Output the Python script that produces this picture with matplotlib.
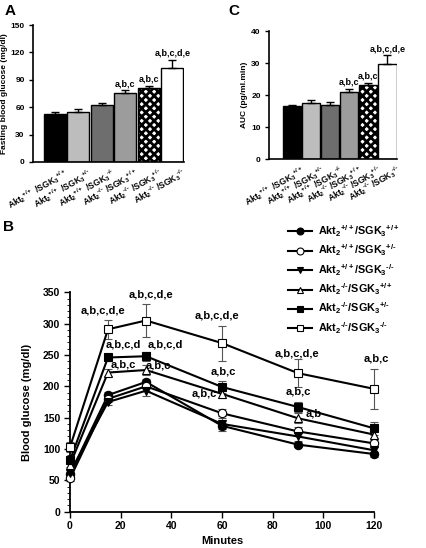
import matplotlib
matplotlib.use("Agg")
import matplotlib.pyplot as plt
import matplotlib.transforms as mtransforms
import numpy as np
from matplotlib.lines import Line2D

plt.rcParams['font.family'] = ['Liberation Sans', 'DejaVu Sans']
plt.rcParams['font.weight'] = 'bold'
plt.rcParams['mathtext.default'] = 'regular'
plt.rcParams['mathtext.fontset'] = 'custom'
plt.rcParams['mathtext.rm'] = 'Liberation Sans:bold'
plt.rcParams['mathtext.it'] = 'Liberation Sans:bold'
plt.rcParams['mathtext.bf'] = 'Liberation Sans:bold'
plt.rcParams['hatch.linewidth'] = 2.0

HY = '\u2010'
akt = ['+/+', '+/+', '+/+', HY + '/' + HY, HY + '/' + HY, HY + '/' + HY]
sgk = ['+/+', '+/' + HY, HY + '/' + HY, '+/+', '+/' + HY, HY + '/' + HY]
genotypes = ['Akt$_2$$^{%s}$/SGK$_3$$^{%s}$' % (a, s) for a, s in zip(akt, sgk)]
bar_labels = ['Akt$_2$$^{%s}$ /SGK$_3$$^{%s}$' % (a, s) for a, s in zip(akt, sgk)]

# Panel A: fasting blood glucose
fasting = [53, 55, 62, 75, 81, 103]
fasting_err = [1.5, 2.5, 3, 4, 2.5, 9]
fasting_sig = ['', '', '', 'a,b,c', 'a,b,c', 'a,b,c,d,e']

# Panel C: AUC
auc = [16.7, 17.6, 16.8, 21.0, 23.0, 29.7]
auc_err = [0.3, 0.8, 1.0, 1.0, 0.9, 2.7]
auc_sig = ['', '', '', 'a,b,c', 'a,b,c', 'a,b,c,d,e']

bar_colors = ['#000000', '#bdbdbd', '#6e6e6e', '#9c9c9c', '#ffffff', '#ffffff']
bar_hatch = [None, None, None, None, 'xxxx', None]

# Panel B: glucose tolerance
minutes = [0, 15, 30, 60, 90, 120]
g_ww = [60, 186, 207, 137, 107, 92]
g_wh = [53, 180, 200, 157, 128, 109]
g_wk = [62, 175, 193, 140, 120, 98]
g_kw = [75, 222, 226, 188, 149, 123]
g_kh = [82, 246, 248, 199, 167, 133]
g_kk = [103, 291, 305, 269, 221, 196]
e_ww = [4, 5, 5, 5, 4, 4]
e_wh = [4, 5, 8, 7, 7, 5]
e_wk = [4, 5, 8, 12, 8, 5]
e_kw = [4, 5, 8, 6, 8, 5]
e_kh = [4, 5, 7, 10, 8, 10]
e_kk = [8, 15, 27, 28, 22, 32]

# annotations: (x minutes, y value, text)
ann_x = [13, 32, 58, 89.5, 121, 21, 37.5, 21, 35, 60.5, 53, 90, 96]
ann_y = [313, 338, 305, 245, 236, 258, 258, 227, 225, 216, 181, 184, 148]
ann_t = ['a,b,c,d,e', 'a,b,c,d,e', 'a,b,c,d,e', 'a,b,c,d,e', 'a,b,c',
         'a,b,c,d', 'a,b,c,d', 'a,b,c', 'a,b,c', 'a,b,c', 'a,b,c', 'a,b,c', 'a,b']

W, H = 427, 548
fig = plt.figure(figsize=(W / 100, H / 100), dpi=100)


def bar_panel(rect, vals, errs, sigs, ylim, yticks, ylabel, left_pad, sig_off):
    ax = fig.add_axes(rect)
    x = np.arange(len(vals))
    for i in range(len(vals)):
        if bar_hatch[i]:
            ax.bar(x[i], vals[i], width=0.95, color='white', edgecolor='black',
                   hatch=bar_hatch[i], linewidth=0, zorder=2)
            ax.bar(x[i], vals[i], width=0.95, fill=False, edgecolor='black',
                   linewidth=1.0, zorder=3)
        else:
            ax.bar(x[i], vals[i], width=0.95, color=bar_colors[i], edgecolor='black',
                   linewidth=1.0, zorder=2)
    ax.errorbar(x, vals, yerr=[np.zeros(len(errs)), errs], fmt='none', ecolor='black',
                elinewidth=1.0, capsize=3, capthick=1.0, zorder=4)
    for i, s in enumerate(sigs):
        if s:
            ax.text(x[i], vals[i] + errs[i] + sig_off, s, ha='center', va='bottom',
                    fontsize=6.5, fontweight='bold')
    ax.set_ylim(*ylim)
    ax.set_xlim(-0.5 - left_pad, len(vals) - 0.5)
    ax.set_yticks(yticks)
    ax.set_yticklabels([str(t) for t in yticks], fontsize=6, fontweight='bold')
    ax.set_xticks(x)
    ax.set_xticklabels([''] * len(x))
    trans = ax.get_xaxis_transform() + mtransforms.ScaledTranslation(
        9 / 100, -4 / 100, fig.dpi_scale_trans)
    for i, lab in enumerate(bar_labels):
        ax.text(x[i], 0, lab, transform=trans, rotation=30, ha='right', va='top',
                rotation_mode='anchor', fontsize=6.2, fontweight='bold', clip_on=False)
    ax.tick_params(axis='x', length=0, pad=3)
    ax.tick_params(axis='y', length=3, width=1, direction='out', pad=3)
    ax.spines['top'].set_visible(False)
    ax.spines['right'].set_visible(False)
    ax.spines['left'].set_linewidth(1.2)
    ax.spines['bottom'].set_linewidth(1.2)
    ax.set_ylabel(ylabel, fontsize=6, fontweight='bold', labelpad=2)
    return ax


axA = bar_panel([33 / W, 1 - 162 / H, (184 - 33) / W, (162 - 25) / H],
                fasting, fasting_err, fasting_sig, (0, 150), [0, 30, 60, 90, 120, 150],
                'Fasting blood glucose (mg/dl)', 0.43, 2)
axC = bar_panel([269 / W, 1 - 159 / H, (397 - 269) / W, (159 - 31) / H],
                auc, auc_err, auc_sig, (0, 40), [0, 10, 20, 30, 40],
                'AUC (pg/ml.min)', 0.7, 0.6)

# Panel B
axB = fig.add_axes([70 / W, 1 - 511.7 / H, (374 - 70) / W, (511.7 - 292.3) / H])
series = [
    (g_ww, e_ww, 'o', 'black'),
    (g_wh, e_wh, 'o', 'white'),
    (g_wk, e_wk, 'v', 'black'),
    (g_kw, e_kw, '^', 'white'),
    (g_kh, e_kh, 's', 'black'),
    (g_kk, e_kk, 's', 'white'),
]
msizes = {'o': 6, 'v': 6, '^': 6, 's': 5.5}
handles = []
for vals, errs, m, fc in series:
    axB.errorbar(minutes, vals, yerr=errs, fmt='none', ecolor='#555555',
                 elinewidth=0.8, capsize=3, capthick=0.8, zorder=2, clip_on=False)
    axB.plot(minutes, vals, color='black', linewidth=1.5, marker=m, markersize=msizes[m],
             markerfacecolor=fc, markeredgecolor='black', markeredgewidth=0.8,
             zorder=3, clip_on=False)
    handles.append(Line2D([0], [0], color='black', linewidth=1.5, marker=m,
                          markersize=msizes[m] - 1, markerfacecolor=fc,
                          markeredgecolor='black', markeredgewidth=0.8))
for xa, ya, t in zip(ann_x, ann_y, ann_t):
    axB.text(xa, ya, t, ha='center', va='bottom', fontsize=8, fontweight='bold', zorder=5)

axB.set_xlim(0, 120)
axB.set_ylim(0, 350)
axB.set_xticks([0, 20, 40, 60, 80, 100, 120])
axB.set_xticklabels(['0', '20', '40', '60', '80', '100', '120'], fontsize=7.5,
                    fontweight='bold')
axB.set_yticks(np.arange(0, 351, 50))
axB.set_yticklabels([str(v) for v in range(0, 351, 50)], fontsize=7.5, fontweight='bold')
axB.set_yticks(np.arange(0, 351, 10), minor=True)
axB.tick_params(axis='both', which='major', length=4, width=1, direction='out', pad=3)
axB.tick_params(axis='y', which='minor', length=2, width=0.6, direction='out')
axB.spines['top'].set_visible(False)
axB.spines['right'].set_visible(False)
axB.spines['left'].set_linewidth(1.3)
axB.spines['bottom'].set_linewidth(1.3)
axB.set_xlabel('Minutes', fontsize=8, fontweight='bold', labelpad=3)
axB.set_ylabel('Blood glucose (mg/dl)', fontsize=8, fontweight='bold', labelpad=8)

fig.legend(handles, genotypes, loc='upper left', bbox_to_anchor=(284 / W, 1 - 219 / H),
           frameon=False, fontsize=7.8, handlelength=2.2, handletextpad=0.5,
           labelspacing=0.35, borderaxespad=0)

fig.text(5 / W, 1 - 4 / H, 'A', fontsize=11, fontweight='bold', va='top')
fig.text(228 / W, 1 - 4 / H, 'C', fontsize=11, fontweight='bold', va='top')
fig.text(3 / W, 1 - 220 / H, 'B', fontsize=11, fontweight='bold', va='top')

fig.savefig('out.png', dpi=100)
